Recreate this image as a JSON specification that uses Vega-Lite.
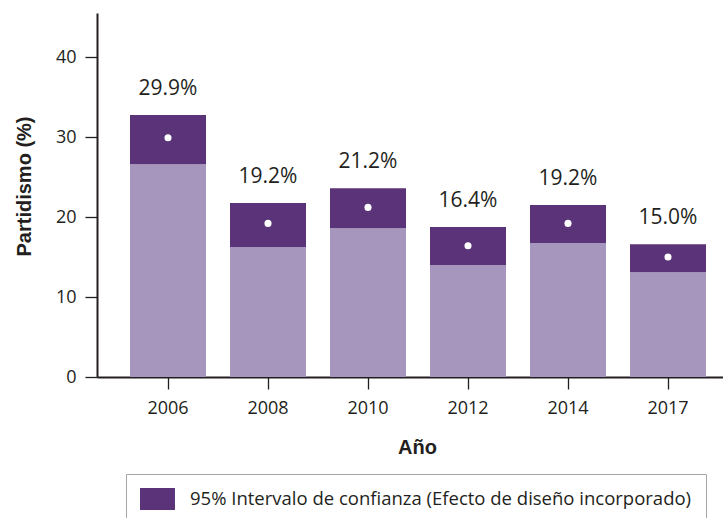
{
  "$schema": "https://vega.github.io/schema/vega-lite/v6.json",
  "width": 626,
  "height": 364,
  "autosize": {"type": "none"},
  "padding": {"left": 97, "top": 13, "right": 0, "bottom": 141},
  "background": "white",
  "config": {
    "view": {"stroke": null},
    "axis": {
      "domainColor": "#231f20",
      "domainWidth": 2,
      "tickColor": "#231f20",
      "tickWidth": 1.3,
      "tickSize": 12,
      "labelFont": "Open Sans",
      "labelFontSize": 18,
      "labelColor": "#231f20",
      "titleFont": "Liberation Sans",
      "titleFontSize": 20,
      "titleFontWeight": "bold",
      "titleColor": "#231f20",
      "grid": false
    }
  },
  "data": {
    "values": [
      {"anio": "2006", "inferior": 26.6, "superior": 32.75, "estimacion": 29.9, "etiqueta": "29.9%", "serie": "95% Intervalo de confianza (Efecto de diseño incorporado)"},
      {"anio": "2008", "inferior": 16.25, "superior": 21.75, "estimacion": 19.2, "etiqueta": "19.2%", "serie": "95% Intervalo de confianza (Efecto de diseño incorporado)"},
      {"anio": "2010", "inferior": 18.6, "superior": 23.6, "estimacion": 21.2, "etiqueta": "21.2%", "serie": "95% Intervalo de confianza (Efecto de diseño incorporado)"},
      {"anio": "2012", "inferior": 14.0, "superior": 18.75, "estimacion": 16.4, "etiqueta": "16.4%", "serie": "95% Intervalo de confianza (Efecto de diseño incorporado)"},
      {"anio": "2014", "inferior": 16.75, "superior": 21.5, "estimacion": 19.2, "etiqueta": "19.2%", "serie": "95% Intervalo de confianza (Efecto de diseño incorporado)"},
      {"anio": "2017", "inferior": 13.1, "superior": 16.6, "estimacion": 15.0, "etiqueta": "15.0%", "serie": "95% Intervalo de confianza (Efecto de diseño incorporado)"}
    ]
  },
  "encoding": {
    "x": {
      "field": "anio",
      "type": "ordinal",
      "sort": null,
      "scale": {"paddingInner": 0.24, "paddingOuter": 0.25, "align": 0.66},
      "axis": {
        "title": "Año",
        "labelAngle": 0,
        "labelPadding": 10,
        "titleX": 320,
        "titleY": 76,
        "titleBaseline": "alphabetic",
        "titleAlign": "center"
      }
    }
  },
  "layer": [
    {
      "mark": {"type": "bar", "color": "#a696bd"},
      "encoding": {
        "y": {
          "field": "inferior",
          "type": "quantitative",
          "scale": {"domain": [0, 45.5], "nice": false},
          "axis": {
            "title": "Partidismo (%)",
            "values": [0, 10, 20, 30, 40],
            "labelPadding": 9,
            "titleAngle": 270,
            "titleX": -67,
            "titleY": 173,
            "titleBaseline": "alphabetic",
            "titleAlign": "center"
          }
        }
      }
    },
    {
      "mark": {"type": "bar"},
      "encoding": {
        "y": {"field": "inferior", "type": "quantitative"},
        "y2": {"field": "superior"},
        "color": {
          "field": "serie",
          "type": "nominal",
          "scale": {"range": ["#5a3378"]},
          "legend": {
            "title": null,
            "orient": "none",
            "legendX": 29,
            "legendY": 461,
            "strokeColor": "#a6a6a6",
            "fillColor": "white",
            "padding": 14,
            "symbolType": "M-1,-1H2.18V1H-1Z",
            "symbolSize": 484,
            "symbolStrokeWidth": 0,
            "symbolOpacity": 1,
            "labelFont": "Open Sans",
            "labelFontSize": 18.5,
            "labelColor": "#231f20",
            "labelOffset": 28,
            "labelLimit": 0
          }
        }
      }
    },
    {
      "mark": {"type": "point", "filled": true, "color": "white", "opacity": 1, "size": 50, "shape": "circle"},
      "encoding": {
        "y": {"field": "estimacion", "type": "quantitative"}
      }
    },
    {
      "mark": {"type": "text", "font": "Open Sans", "fontSize": 21, "color": "#231f20", "baseline": "alphabetic", "dy": -20},
      "encoding": {
        "y": {"field": "superior", "type": "quantitative"},
        "text": {"field": "etiqueta"}
      }
    }
  ]
}
